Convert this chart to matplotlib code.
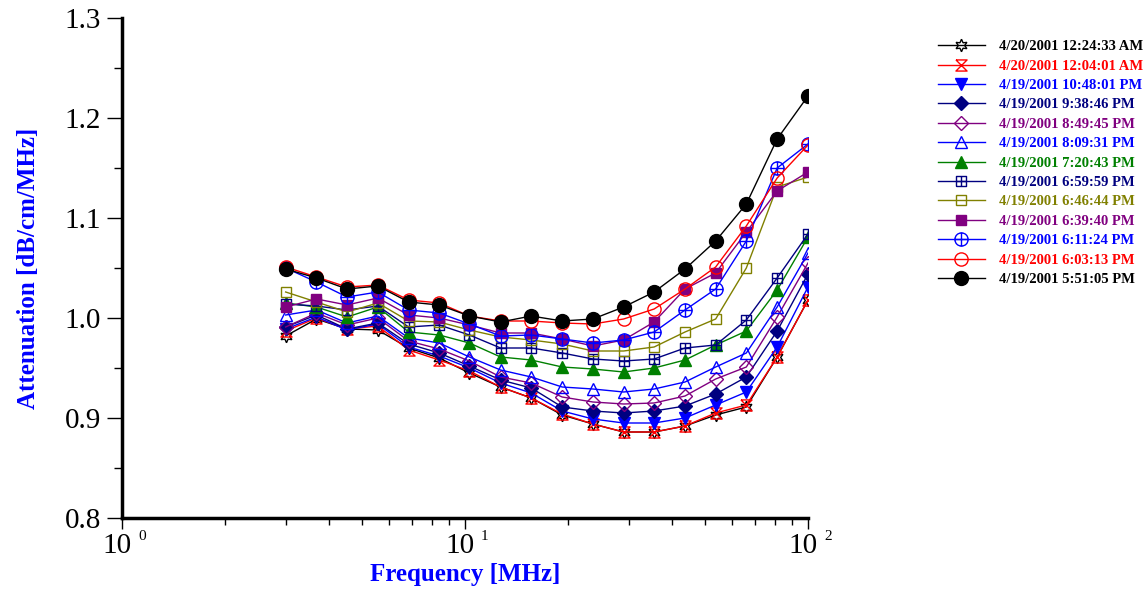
import numpy as np
import matplotlib
matplotlib.use("Agg")
import matplotlib.pyplot as plt
from matplotlib.path import Path
from matplotlib.ticker import FixedLocator, NullFormatter, MultipleLocator
import matplotlib.transforms as mtransforms

plt.rcParams['font.family'] = ['Liberation Serif', 'DejaVu Serif']

freq = [3.0, 3.69, 4.53, 5.57, 6.85, 8.41, 10.3, 12.7, 15.6, 19.2, 23.6,
        29.0, 35.6, 43.8, 53.8, 66.1, 81.3, 100.0]

labels = ["4/20/2001 12:24:33 AM", "4/20/2001 12:04:01 AM",
          "4/19/2001 10:48:01 PM", "4/19/2001 9:38:46 PM",
          "4/19/2001 8:49:45 PM", "4/19/2001 8:09:31 PM",
          "4/19/2001 7:20:43 PM", "4/19/2001 6:59:59 PM",
          "4/19/2001 6:46:44 PM", "4/19/2001 6:39:40 PM",
          "4/19/2001 6:11:24 PM", "4/19/2001 6:03:13 PM",
          "4/19/2001 5:51:05 PM"]

s_0024 = [0.982, 0.999, 0.989, 0.988, 0.970, 0.960, 0.945, 0.931, 0.920, 0.903, 0.894,
          0.886, 0.886, 0.892, 0.903, 0.911, 0.961, 1.018]
s_0004 = [0.987, 1.000, 0.989, 0.992, 0.968, 0.958, 0.947, 0.931, 0.920, 0.904, 0.894,
          0.886, 0.886, 0.892, 0.905, 0.913, 0.961, 1.018]
s_2248 = [0.989, 1.001, 0.988, 0.994, 0.971, 0.962, 0.950, 0.935, 0.925, 0.907, 0.899,
          0.895, 0.895, 0.900, 0.913, 0.926, 0.971, 1.031]
s_2138 = [0.991, 1.003, 0.989, 0.995, 0.974, 0.965, 0.952, 0.938, 0.930, 0.911, 0.907,
          0.905, 0.907, 0.912, 0.924, 0.941, 0.987, 1.044]
s_2049 = [0.991, 1.005, 0.993, 1.000, 0.977, 0.969, 0.957, 0.941, 0.935, 0.921, 0.916,
          0.914, 0.915, 0.922, 0.939, 0.951, 1.001, 1.055]
s_2009 = [1.003, 1.008, 0.995, 1.002, 0.980, 0.975, 0.961, 0.948, 0.941, 0.931, 0.929,
          0.926, 0.929, 0.936, 0.951, 0.965, 1.011, 1.065]
s_1920 = [1.015, 1.011, 1.001, 1.011, 0.986, 0.983, 0.975, 0.961, 0.958, 0.951, 0.949,
          0.946, 0.950, 0.958, 0.973, 0.987, 1.028, 1.081]
s_1859 = [1.014, 1.012, 1.008, 1.012, 0.991, 0.993, 0.983, 0.970, 0.970, 0.965, 0.959,
          0.957, 0.959, 0.970, 0.973, 0.998, 1.040, 1.084]
s_1846 = [1.026, 1.016, 1.006, 1.015, 0.997, 0.996, 0.988, 0.981, 0.978, 0.974, 0.967,
          0.967, 0.971, 0.986, 0.999, 1.050, 1.131, 1.141]
s_1839 = [1.011, 1.019, 1.013, 1.020, 1.003, 1.000, 0.993, 0.985, 0.985, 0.979, 0.972,
          0.978, 0.996, 1.029, 1.045, 1.086, 1.127, 1.146]
s_1811 = [1.050, 1.036, 1.021, 1.026, 1.008, 1.005, 0.994, 0.982, 0.983, 0.979, 0.975,
          0.978, 0.986, 1.008, 1.029, 1.077, 1.150, 1.174]
s_1803 = [1.051, 1.041, 1.031, 1.033, 1.018, 1.015, 1.002, 0.997, 0.997, 0.995, 0.994,
          0.999, 1.009, 1.029, 1.051, 1.092, 1.140, 1.173]
s_1751 = [1.049, 1.040, 1.029, 1.032, 1.016, 1.013, 1.002, 0.996, 1.002, 0.997, 0.999,
          1.011, 1.026, 1.049, 1.077, 1.114, 1.179, 1.222]

series = [s_0024, s_0004, s_2248, s_2138, s_2049, s_2009, s_1920, s_1859,
          s_1846, s_1839, s_1811, s_1803, s_1751]

colors = ['#000000', '#FF0000', '#0000FF', '#000080', '#800080', '#0000FF',
          '#008000', '#000080', '#808000', '#800080', '#0000FF', '#FF0000', '#000000']

# custom marker shapes
M, L = Path.MOVETO, Path.LINETO
hourglass = Path([(-1, 1), (1, 1), (-1, -1), (1, -1), (-1, 1)], [M, L, L, L, L])
sq_plus = Path([(-1, -1), (1, -1), (1, 1), (-1, 1), (-1, -1),
                (-1, 0), (1, 0), (0, -1), (0, 1)],
               [M, L, L, L, L, M, L, M, L])
circ = Path.unit_circle()
circ_plus = Path.make_compound_path(circ, Path([(-1, 0), (1, 0)], [M, L]),
                                    Path([(0, -1), (0, 1)], [M, L]))

styles = [
    dict(marker=(6, 1, 0), mfc='none', ms=9),
    dict(marker=hourglass, mfc='none', ms=8),
    dict(marker='v', mfc=None, ms=8),
    dict(marker='D', mfc=None, ms=7),
    dict(marker='D', mfc='none', ms=7),
    dict(marker='^', mfc='none', ms=8),
    dict(marker='^', mfc=None, ms=8),
    dict(marker=sq_plus, mfc='none', ms=7),
    dict(marker='s', mfc='none', ms=7),
    dict(marker='s', mfc=None, ms=7),
    dict(marker=circ_plus, mfc='none', ms=9.5),
    dict(marker='o', mfc='none', ms=9.5),
    dict(marker='o', mfc=None, ms=10),
]

fig = plt.figure(figsize=(11.46, 5.90), dpi=100)
ax = fig.add_axes([122 / 1146, 72 / 590, 686 / 1146, 500 / 590])

for vals, col, lab, st in zip(series, colors, labels, styles):
    mfc = col if st['mfc'] is None else st['mfc']
    ax.plot(freq, vals, color=col, lw=1.0, marker=st['marker'], ms=st['ms'],
            mfc=mfc, mec=col, mew=1.0, label=lab)

ax.set_xscale('log')
ax.set_xlim(1, 100)
ax.set_ylim(0.8, 1.3)

for s in ['top', 'right']:
    ax.spines[s].set_visible(False)
for s in ['left', 'bottom']:
    ax.spines[s].set_linewidth(2.5)

ax.yaxis.set_minor_locator(MultipleLocator(0.05))
ax.set_yticks([0.8, 0.9, 1.0, 1.1, 1.2, 1.3])
ax.set_yticklabels(['0.8', '0.9', '1.0', '1.1', '1.2', '1.3'])
ax.tick_params(axis='y', which='major', direction='out', length=11, width=1,
               labelsize=21, pad=4)
ax.tick_params(axis='y', which='minor', direction='out', length=6, width=1)

ax.set_xticks([1, 10, 100])
ax.set_xticklabels(['10', '10', '10'])
ax.xaxis.set_minor_locator(FixedLocator([k * d for d in (1, 10) for k in range(2, 10)]))
ax.xaxis.set_minor_formatter(NullFormatter())
ax.tick_params(axis='x', which='major', direction='out', length=8, width=1,
               labelsize=21, pad=3)
ax.tick_params(axis='x', which='minor', direction='out', length=5, width=1)
# shift "10" labels a bit left
offset = mtransforms.ScaledTranslation(-5 / 100, 0, fig.dpi_scale_trans)
for lbl in ax.get_xticklabels():
    lbl.set_transform(lbl.get_transform() + offset)

for xv, ex in zip([1, 10, 100], ['0', '1', '2']):
    ax.annotate(ex, xy=(xv, 0), xycoords=('data', 'axes fraction'),
                xytext=(16, -12), textcoords='offset pixels',
                fontsize=11, ha='left', va='top')

ax.set_xlabel('Frequency [MHz]', fontsize=18, fontweight='bold', color='#0000FF',
              labelpad=3)
ax.set_ylabel('Attenuation [dB/cm/MHz]', fontsize=18, fontweight='bold',
              color='#0000FF', labelpad=18)

leg = fig.legend(loc='upper left', bbox_to_anchor=(938 / 1146, 1 - 40 / 590),
                 frameon=False, prop={'size': 10.5, 'weight': 'bold'},
                 handlelength=3.2, handletextpad=1.0, labelspacing=0.425,
                 borderpad=0, borderaxespad=0)
for txt, col in zip(leg.get_texts(), colors):
    txt.set_color(col)

fig.savefig('out.png', dpi=100)
